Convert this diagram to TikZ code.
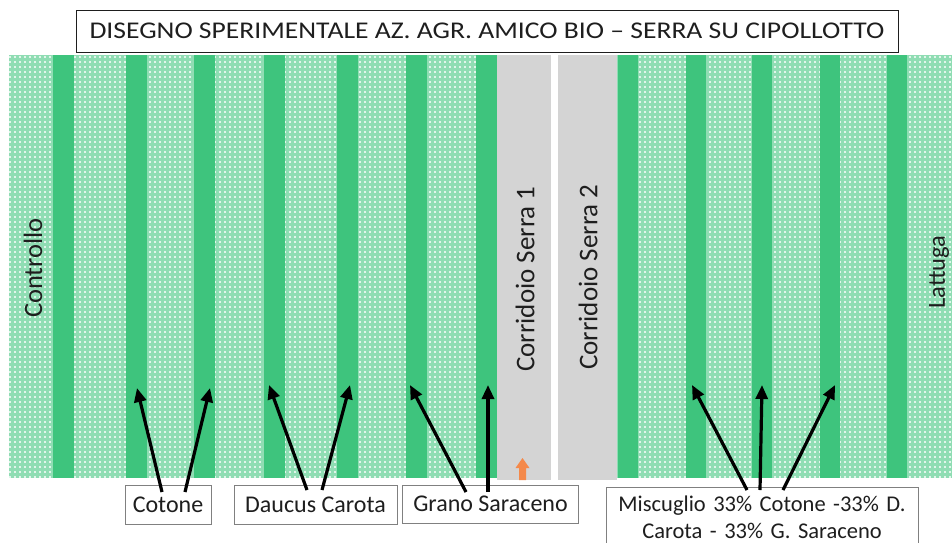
\documentclass[tikz,border=0pt]{standalone}
\usepackage{fontspec}
\setmainfont{Carlito}
\newfontfamily\titlefont[FakeStretch=1.15]{Carlito}
\usetikzlibrary{arrows.meta,patterns.meta}
\definecolor{fieldg}{HTML}{8FDDB3}
\definecolor{stripg}{HTML}{3EC47D}
\definecolor{corr}{HTML}{D4D4D4}
\definecolor{orng}{HTML}{F4894A}
\definecolor{boxgray}{HTML}{808080}
\definecolor{ink}{HTML}{1E1E1E}
\begin{document}
\begin{tikzpicture}[x=1pt,y=-1pt,
  field/.style={fill=fieldg, postaction={pattern={Dots[distance=5pt,radius=1.05pt]}, pattern color=white}},
  strip/.style={fill=stripg},
  corridor/.style={fill=corr},
  lbl/.style={draw=boxgray, line width=0.8pt, fill=white, inner sep=0pt, text=ink,
              font=\fontsize{24}{27}\selectfont},
  vlabel/.style={rotate=90, text=ink, inner sep=0pt, font=\fontsize{27}{30}\selectfont},
  ptr/.style={line width=3.2pt, draw=black, -{Triangle[length=14pt,width=12pt]}}]
\useasboundingbox (0,0) rectangle (952,542);
% fields
\path[field] (9,55) rectangle (497,478);
\path[field] (617,55) rectangle (952,478);
% strips
\foreach \a in {53,126,194,264,337,406,476} \fill[strip] (\a,55) rectangle ++(21,423);
\foreach \a in {618,686,752,820,887} \fill[strip] (\a,55) rectangle ++(20,423);
% corridors
\fill[corridor] (497,55) rectangle (551,480);
\fill[corridor] (558,55) rectangle (617,480);
% title
\node[draw=ink, line width=0.8pt, minimum width=822pt, minimum height=42pt, inner sep=0pt,
      text=ink, font=\titlefont\fontsize{24}{26}\selectfont] (title) at (487,31)
  {DISEGNO SPERIMENTALE AZ. AGR. AMICO BIO – SERRA SU CIPOLLOTTO};
% vertical labels
\node[vlabel, font=\fontsize{26.5}{30}\selectfont] (ctrl) at (33,268) {Controllo};
\node[vlabel, font=\fontsize{24.5}{28}\selectfont] (latt) at (939,272) {Lattuga};
\node[vlabel] (c1) at (525,279) {Corridoio Serra 1};
\node[vlabel] (c2) at (588,277) {Corridoio Serra 2};
% orange marker
\fill[orng] (519,480) -- (519,468) -- (515.5,468) -- (522.5,458) -- (529.5,468) -- (526,468) -- (526,480) -- cycle;
% label boxes
\node[lbl, minimum width=86pt, minimum height=39pt] (cot) at (168,504.5) {Cotone};
\node[lbl, minimum width=163pt, minimum height=39pt] (dau) at (315.5,504.5) {Daucus Carota};
\node[lbl, minimum width=176pt, minimum height=38pt] (gra) at (490.5,504) {Grano Saraceno};
\node[lbl, anchor=north, text width=312pt, align=center, inner ysep=8pt,
      font=\fontsize{22.5}{27}\selectfont] (mis) at (762,487)
  {Miscuglio 33\% Cotone -33\% D.\\Carota - 33\% G. Saraceno};
% arrow ends
\coordinate (cotA) at (162,492); \coordinate (cotB) at (185,492);
\coordinate (s2) at (137,388);   \coordinate (s3) at (210,388);
\coordinate (dauA) at (307,490); \coordinate (dauB) at (322,490);
\coordinate (s4) at (269,385);   \coordinate (s5) at (350,385);
\coordinate (graA) at (466,492); \coordinate (graB) at (488,492);
\coordinate (s6) at (410,385);   \coordinate (s7) at (488,385);
\coordinate (misA) at (747,490); \coordinate (misB) at (760,490); \coordinate (misC) at (783,490);
\coordinate (r2) at (692,385);   \coordinate (r3) at (762,385);   \coordinate (r4) at (835,385);
% arrows
\draw[ptr] (cotA) -- (s2);
\draw[ptr] (cotB) -- (s3);
\draw[ptr] (dauA) -- (s4);
\draw[ptr] (dauB) -- (s5);
\draw[ptr] (graA) -- (s6);
\draw[ptr] (graB) -- (s7);
\draw[ptr] (misA) -- (r2);
\draw[ptr] (misB) -- (r3);
\draw[ptr] (misC) -- (r4);
\end{tikzpicture}
\end{document}
